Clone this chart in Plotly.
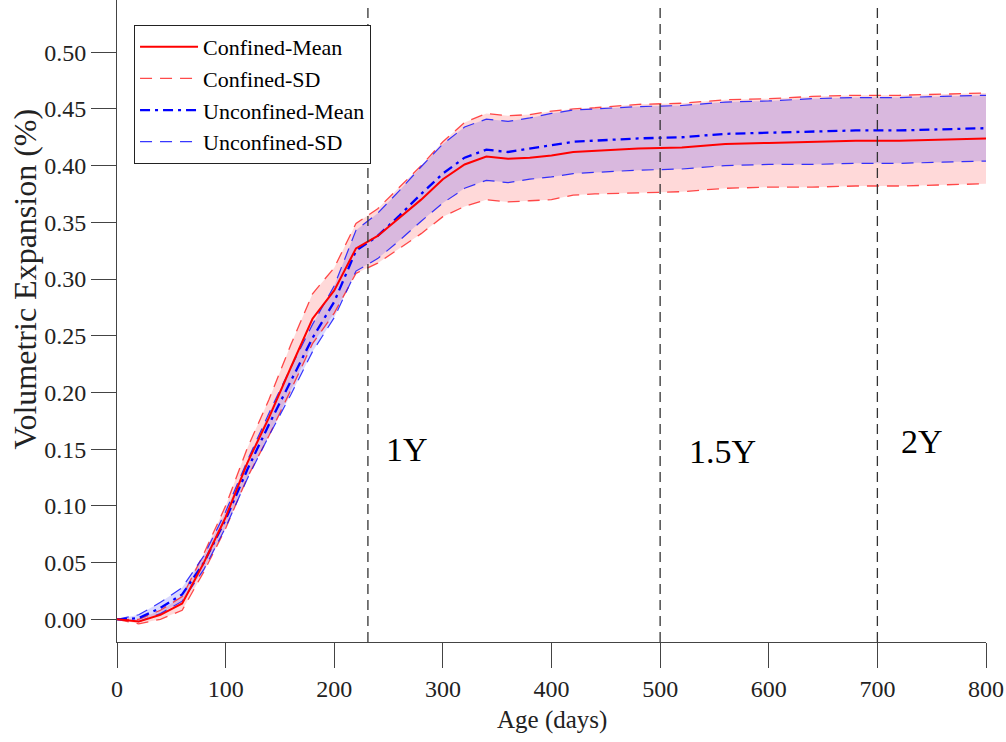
import plotly.graph_objects as go

# Age of specimens (days)
days = [0, 20, 40, 60, 80, 100, 120, 140, 160, 180, 200, 220, 240, 260, 280, 300,
        320, 340, 360, 380, 400, 420, 440, 480, 520, 560, 600, 640, 680, 720, 760, 800]

# Volumetric expansion (%) - confined specimens
confined_mean = [0.000, -0.002, 0.004, 0.014, 0.050, 0.090, 0.138, 0.178, 0.222, 0.265, 0.290, 0.327,
                 0.338, 0.354, 0.370, 0.388, 0.401, 0.408, 0.406, 0.407, 0.409, 0.412, 0.413, 0.415,
                 0.416, 0.419, 0.420, 0.421, 0.422, 0.422, 0.423, 0.424]
confined_sd = [0.000, 0.002, 0.004, 0.006, 0.008, 0.010, 0.013, 0.016, 0.020, 0.022, 0.020, 0.022,
               0.024, 0.027, 0.030, 0.033, 0.037, 0.038, 0.038, 0.038, 0.039, 0.038, 0.038, 0.039,
               0.039, 0.039, 0.039, 0.040, 0.040, 0.040, 0.040, 0.040]

# Volumetric expansion (%) - unconfined specimens
unconfined_mean = [0.000, 0.001, 0.010, 0.022, 0.050, 0.088, 0.132, 0.172, 0.210, 0.248, 0.280, 0.325,
                   0.338, 0.356, 0.375, 0.393, 0.407, 0.414, 0.412, 0.415, 0.418, 0.421, 0.422, 0.424,
                   0.425, 0.428, 0.429, 0.430, 0.431, 0.431, 0.432, 0.433]
unconfined_sd = [0.000, 0.003, 0.005, 0.006, 0.006, 0.007, 0.008, 0.010, 0.012, 0.012, 0.014, 0.018,
                 0.020, 0.022, 0.024, 0.026, 0.027, 0.027, 0.027, 0.027, 0.028, 0.028, 0.028, 0.028,
                 0.028, 0.028, 0.028, 0.029, 0.029, 0.029, 0.029, 0.029]

# Reference ages and their labels
marker_days = [231, 500, 700]
marker_labels = ["1Y", "1.5Y", "2Y"]
label_pos = [(246, 0.150), (525, 0.148), (720, 0.157)]

x_ticks = [0, 100, 200, 300, 400, 500, 600, 700, 800]

FONT = "Liberation Serif, Times New Roman, serif"

c_lo = [m - s for m, s in zip(confined_mean, confined_sd)]
c_hi = [m + s for m, s in zip(confined_mean, confined_sd)]
u_lo = [m - s for m, s in zip(unconfined_mean, unconfined_sd)]
u_hi = [m + s for m, s in zip(unconfined_mean, unconfined_sd)]

fig = go.Figure()

# shaded SD bands
fig.add_trace(go.Scatter(x=days, y=c_lo, mode="lines", line=dict(width=0), showlegend=False, hoverinfo="skip"))
fig.add_trace(go.Scatter(x=days, y=c_hi, mode="lines", line=dict(width=0), fill="tonexty",
                         fillcolor="rgba(255,0,0,0.15)", showlegend=False, hoverinfo="skip"))
fig.add_trace(go.Scatter(x=days, y=u_lo, mode="lines", line=dict(width=0), showlegend=False, hoverinfo="skip"))
fig.add_trace(go.Scatter(x=days, y=u_hi, mode="lines", line=dict(width=0), fill="tonexty",
                         fillcolor="rgba(0,0,255,0.15)", showlegend=False, hoverinfo="skip"))

red_sd_line = dict(color="rgba(255,30,30,0.8)", width=1.3, dash="12px,8px")
blue_sd_line = dict(color="rgba(20,20,255,0.85)", width=1.2, dash="12px,8px")

fig.add_trace(go.Scatter(x=days, y=c_hi, mode="lines", line=red_sd_line, name="Confined-SD",
                         legendrank=2))
fig.add_trace(go.Scatter(x=days, y=c_lo, mode="lines", line=red_sd_line, showlegend=False))
fig.add_trace(go.Scatter(x=days, y=u_hi, mode="lines", line=blue_sd_line, name="Unconfined-SD",
                         legendrank=4))
fig.add_trace(go.Scatter(x=days, y=u_lo, mode="lines", line=blue_sd_line, showlegend=False))
fig.add_trace(go.Scatter(x=days, y=unconfined_mean, mode="lines", name="Unconfined-Mean",
                         line=dict(color="#0000FF", width=2.3, dash="10px,5px,3px,5px"), legendrank=3))
fig.add_trace(go.Scatter(x=days, y=confined_mean, mode="lines", name="Confined-Mean",
                         line=dict(color="#FF0000", width=2), legendrank=1))

for d in marker_days:
    fig.add_shape(type="line", xref="x", yref="paper", x0=d, x1=d, y0=0, y1=0.99,
                  line=dict(color="#333333", width=1.3, dash="10px,6px"))

for (lx, ly), txt in zip(label_pos, marker_labels):
    fig.add_annotation(x=lx, y=ly, xref="x", yref="y", text=txt, showarrow=False,
                       xanchor="left", yanchor="middle", font=dict(family=FONT, size=34, color="black"))

fig.add_annotation(text="Volumetric Expansion (%)", xref="paper", yref="paper",
                   x=-0.106, y=0.566, textangle=-90, showarrow=False,
                   xanchor="center", yanchor="middle", font=dict(family=FONT, size=32, color="#222"))
fig.add_annotation(text="Age (days)", xref="paper", yref="paper",
                   x=0.5, y=-0.1215, showarrow=False,
                   xanchor="center", yanchor="middle", font=dict(family=FONT, size=25, color="#222"))

fig.update_layout(
    width=1006, height=742,
    margin=dict(l=117, r=20, t=0, b=100),
    paper_bgcolor="white", plot_bgcolor="white",
    font=dict(family=FONT, size=24, color="#222"),
    showlegend=True,
    legend=dict(x=0.0196, y=0.961, xanchor="left", yanchor="top", traceorder="normal",
                bgcolor="white", bordercolor="#222", borderwidth=1,
                font=dict(family=FONT, size=22, color="black"),
                itemwidth=58, tracegroupgap=0),
    xaxis=dict(range=[0, 800], tickvals=x_ticks, showgrid=False, zeroline=False,
               showline=True, linecolor="#444", linewidth=1,
               ticks="outside", ticklen=25, tickcolor="#444", tickwidth=1,
               tickfont=dict(family=FONT, size=24, color="#222")),
    yaxis=dict(range=[-0.02, 0.546], tick0=0, dtick=0.05, tickformat=".2f", showgrid=False,
               zeroline=False, showline=True, linecolor="#444", linewidth=1,
               ticks="outside", ticklen=25, tickcolor="#444", tickwidth=1,
               tickfont=dict(family=FONT, size=24, color="#222")),
)

fig.write_html("out.html")
